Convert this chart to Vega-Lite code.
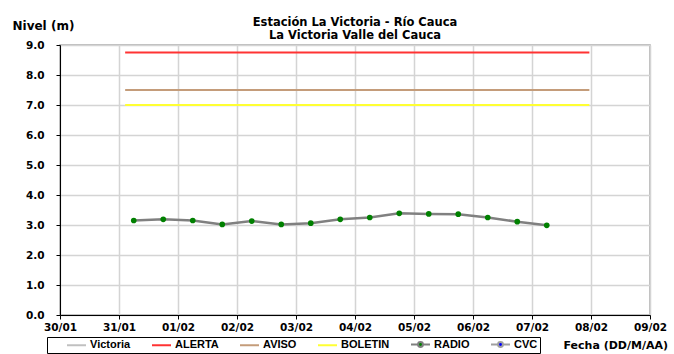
{
  "$schema": "https://vega.github.io/schema/vega-lite/v6.json",
  "width": 590,
  "height": 270,
  "autosize": {"type": "none"},
  "padding": {"left": 60, "top": 45, "right": 24, "bottom": 39},
  "background": "white",
  "title": {
    "text": ["Estación La Victoria - Río Cauca", "La Victoria Valle del Cauca"],
    "anchor": "middle",
    "frame": "group",
    "font": "DejaVu Sans",
    "fontSize": 11.5,
    "fontWeight": "bold",
    "lineHeight": 13.5,
    "color": "black",
    "offset": -22.5
  },
  "data": {
    "values": [
      {"serie": "ALERTA", "fecha": "2011-01-31T02:30:00", "nivel": 8.75},
      {"serie": "ALERTA", "fecha": "2011-02-07T23:20:00", "nivel": 8.75},
      {"serie": "AVISO", "fecha": "2011-01-31T02:30:00", "nivel": 7.5},
      {"serie": "AVISO", "fecha": "2011-02-07T23:20:00", "nivel": 7.5},
      {"serie": "BOLETIN", "fecha": "2011-01-31T02:30:00", "nivel": 7.0},
      {"serie": "BOLETIN", "fecha": "2011-02-07T23:20:00", "nivel": 7.0},
      {"serie": "RADIO", "fecha": "2011-01-31T06:00:00", "nivel": 3.15},
      {"serie": "RADIO", "fecha": "2011-01-31T18:00:00", "nivel": 3.19},
      {"serie": "RADIO", "fecha": "2011-02-01T06:00:00", "nivel": 3.15},
      {"serie": "RADIO", "fecha": "2011-02-01T18:00:00", "nivel": 3.02},
      {"serie": "RADIO", "fecha": "2011-02-02T06:00:00", "nivel": 3.13},
      {"serie": "RADIO", "fecha": "2011-02-02T18:00:00", "nivel": 3.02},
      {"serie": "RADIO", "fecha": "2011-02-03T06:00:00", "nivel": 3.06},
      {"serie": "RADIO", "fecha": "2011-02-03T18:00:00", "nivel": 3.19},
      {"serie": "RADIO", "fecha": "2011-02-04T06:00:00", "nivel": 3.25},
      {"serie": "RADIO", "fecha": "2011-02-04T18:00:00", "nivel": 3.39},
      {"serie": "RADIO", "fecha": "2011-02-05T06:00:00", "nivel": 3.37},
      {"serie": "RADIO", "fecha": "2011-02-05T18:00:00", "nivel": 3.36},
      {"serie": "RADIO", "fecha": "2011-02-06T06:00:00", "nivel": 3.25},
      {"serie": "RADIO", "fecha": "2011-02-06T18:00:00", "nivel": 3.11},
      {"serie": "RADIO", "fecha": "2011-02-07T06:00:00", "nivel": 2.99}
    ]
  },
  "encoding": {
    "x": {
      "field": "fecha",
      "type": "temporal",
      "scale": {"domain": [{"year": 2011, "month": 1, "date": 30}, {"year": 2011, "month": 2, "date": 9}], "nice": false},
      "axis": {
        "title": "Fecha (DD/M/AA)",
        "titleAngle": 0,
        "titleAlign": "left",
        "titleBaseline": "middle",
        "titleX": 503,
        "titleY": 30,
        "titleFont": "DejaVu Sans",
        "titleFontSize": 11,
        "titleFontWeight": "bold",
        "titleColor": "black",
        "format": "%d/%m",
        "tickCount": {"interval": "day", "step": 1},
        "labelFont": "DejaVu Sans",
        "labelFontSize": 10.5,
        "labelFontWeight": "bold",
        "labelColor": "black",
        "labelFlush": false,
        "labelOverlap": false,
        "labelPadding": 3,
        "tickSize": 4,
        "tickColor": "black",
        "domainColor": "black",
        "grid": true,
        "gridColor": "#d4d4d4",
        "gridWidth": 1.5
      }
    },
    "y": {
      "field": "nivel",
      "type": "quantitative",
      "scale": {"domain": [0, 9], "nice": false, "zero": true},
      "axis": {
        "title": "Nivel (m)",
        "titleAngle": 0,
        "titleAlign": "left",
        "titleBaseline": "middle",
        "titleX": -48,
        "titleY": -20,
        "titleFont": "DejaVu Sans",
        "titleFontSize": 12,
        "titleFontWeight": "bold",
        "titleColor": "black",
        "values": [0, 1, 2, 3, 4, 5, 6, 7, 8, 9],
        "format": ".1f",
        "labelFont": "DejaVu Sans",
        "labelFontSize": 10.5,
        "labelFontWeight": "bold",
        "labelColor": "black",
        "labelPadding": 12,
        "tickSize": 4,
        "tickColor": "black",
        "domainColor": "black",
        "grid": true,
        "gridColor": "#d4d4d4",
        "gridWidth": 1.5
      }
    }
  },
  "layer": [
    {
      "transform": [{"filter": "datum.serie !== 'RADIO'"}],
      "mark": {"type": "line", "strokeWidth": 2},
      "encoding": {
        "color": {
          "field": "serie",
          "type": "nominal",
          "scale": {
            "domain": ["Victoria", "ALERTA", "AVISO", "BOLETIN", "RADIO", "CVC"],
            "range": ["#c0c0c0", "#ff3333", "#c49c7a", "#ffff33", "#808080", "#a0a0a0"]
          },
          "legend": {
            "title": " ",
            "titleOrient": "left",
            "titleFontSize": 1,
            "titlePadding": 16,
            "orient": "none",
            "legendX": -13,
            "legendY": 292,
            "direction": "horizontal",
            "strokeColor": "black",
            "fillColor": "white",
            "padding": 2,
            "labelFont": "Liberation Sans",
            "labelFontSize": 11,
            "labelFontWeight": "bold",
            "labelColor": "black",
            "labelOffset": 14,
            "labelExpr": "datum.label === 'CVC' ? 'CVC     ' : datum.label",
            "columnPadding": 17,
            "symbolType": "M-1,0H4.43",
            "symbolSize": 49,
            "symbolStrokeWidth": 2,
            "encode": {
              "symbols": {
                "update": {
                  "shape": {"signal": "(datum.value === 'RADIO' || datum.value === 'CVC') ? 'M-1,0H1.014M2.414,0H4.43M1.014,0A0.7,0.7 0 1 1 2.414,0A0.7,0.7 0 1 1 1.014,0Z' : 'M-1,0H4.43'"},
                  "fill": {"signal": "datum.value === 'RADIO' ? '#008000' : datum.value === 'CVC' ? '#0000ff' : 'transparent'"},
                  "stroke": {"signal": "datum.value === 'Victoria' ? '#c0c0c0' : datum.value === 'ALERTA' ? '#ff3333' : datum.value === 'AVISO' ? '#c49c7a' : datum.value === 'BOLETIN' ? '#ffff33' : datum.value === 'RADIO' ? '#808080' : '#a0a0a0'"}
                }
              }
            }
          }
        }
      }
    },
    {
      "transform": [{"filter": "datum.serie === 'RADIO'"}],
      "mark": {"type": "line", "color": "#808080", "strokeWidth": 2.5}
    },
    {
      "transform": [{"filter": "datum.serie === 'RADIO'"}],
      "mark": {"type": "point", "filled": true, "color": "#008000", "size": 32, "opacity": 1}
    }
  ],
  "config": {
    "view": {"stroke": "#a6a6a6", "strokeWidth": 1.5},
    "font": "DejaVu Sans"
  }
}
